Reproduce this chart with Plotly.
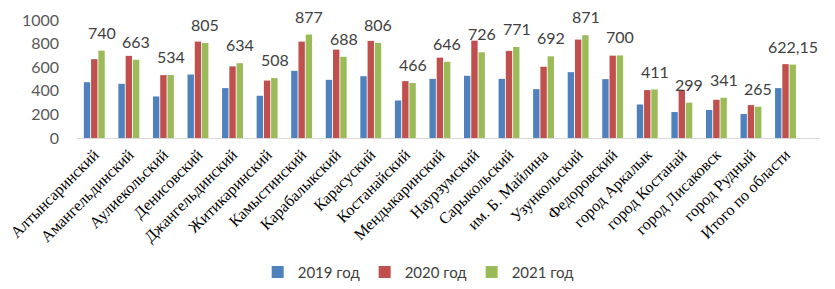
import plotly.graph_objects as go

categories = ["Алтынсаринский", "Амангельдинский", "Аулиекольский", "Денисовский",
              "Джангельдинский", "Житикаринский", "Камыстинский", "Карабалыкский",
              "Карасуский", "Костанайский", "Мендыкаринский", "Наурзумский",
              "Сарыкольский", "им. Б. Майлина", "Узункольский", "Федоровский",
              "город Аркалык", "город Костанай", "город Лисаковск", "город Рудный",
              "Итого по области"]
v2019 = [473, 459, 352, 538, 423, 358, 569, 493, 524, 318, 501, 527, 501, 414,
         558, 499, 284, 220, 237, 203, 423]
v2020 = [668, 696, 533, 817, 607, 487, 817, 749, 823, 482, 681, 825, 738, 604,
         834, 698, 406, 408, 324, 279, 626]
v2021 = [740, 663, 534, 805, 634, 508, 877, 688, 806, 466, 646, 726, 771, 692,
         871, 700, 411, 299, 341, 265, 622.15]
labels2021 = ["740", "663", "534", "805", "634", "508", "877", "688", "806", "466",
              "646", "726", "771", "692", "871", "700", "411", "299", "341", "265",
              "622,15"]
series_names = ["2019 год", "2020 год", "2021 год"]
colors = ["#4F81BD", "#C0504D", "#9BBB59"]

fig = go.Figure()
for name, vals, col in zip(series_names, [v2019, v2020, v2021], colors):
    fig.add_trace(go.Bar(x=categories, y=vals, name=name, marker_color=col,
                         marker_line_width=0))

for cat, val, lab in zip(categories, v2021, labels2021):
    fig.add_annotation(x=cat, y=val, text=lab, showarrow=False,
                       xshift=7.5, yshift=7, yanchor="bottom",
                       font=dict(family="Lato, sans-serif", size=16, color="#404040"))

fig.update_layout(
    width=827, height=281,
    margin=dict(l=69, r=15, t=12, b=151, autoexpand=False),
    plot_bgcolor="white", paper_bgcolor="white",
    barmode="group", bargap=0.37, bargroupgap=0.12,
    showlegend=True,
    legend=dict(orientation="h", xref="container", yref="container",
                x=0.496, xanchor="center", y=0.06, yanchor="middle",
                font=dict(family="Lato, sans-serif", size=15, color="#404040"),
                itemwidth=30),
)
fig.update_xaxes(tickangle=-45, showline=True, linecolor="#D9D9D9", linewidth=1,
                 ticks="", automargin=False,
                 tickfont=dict(family="Liberation Serif, serif", size=16, color="#000000"))
fig.update_yaxes(range=[0, 1000], dtick=200, showgrid=False, zeroline=False,
                 showline=False, ticks="", ticklabelstandoff=17, automargin=False,
                 tickfont=dict(family="Lato, sans-serif", size=16, color="#595959"))

fig.write_html("out.html")
